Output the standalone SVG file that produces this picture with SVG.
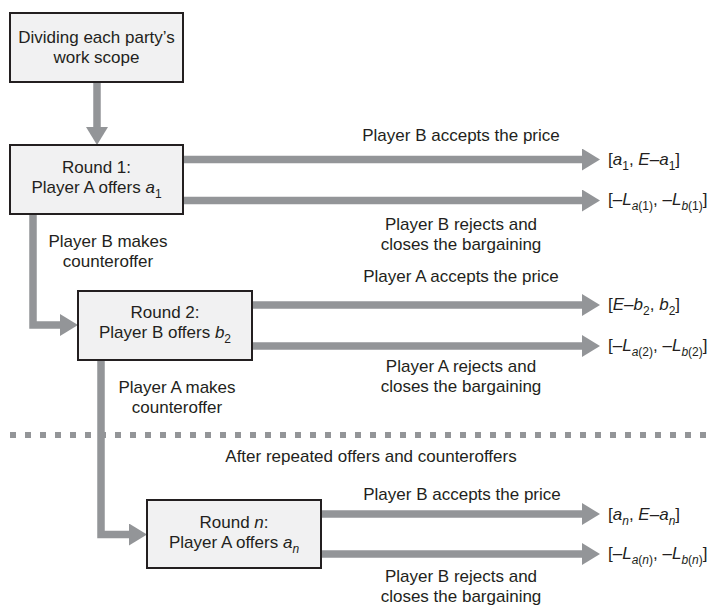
<svg xmlns="http://www.w3.org/2000/svg" width="713" height="606" viewBox="0 0 713 606">
<style>
text{font-family:"Liberation Sans",Arial,sans-serif;font-size:17px;fill:#231f20}
.c{text-anchor:middle}
.i{font-style:italic}
.s{font-size:12px}
.box{fill:#f1f1f2;stroke:#231f20;stroke-width:2}
.ln{fill:none;stroke:#939598;stroke-width:7.5}
.dot{fill:none;stroke:#939598;stroke-width:6;stroke-dasharray:6 9}
</style>
<defs>
<marker id="ah" markerUnits="userSpaceOnUse" markerWidth="18" markerHeight="22" refX="0" refY="11" orient="auto" viewBox="0 0 18 22">
<path d="M0,0 L18,11 L0,22 z" fill="#939598"/>
</marker>
</defs>
<rect width="713" height="606" fill="#fff"/>
<g id="connectors">
<path class="ln" d="M97,82 V127" marker-end="url(#ah)"/>
<path class="ln" d="M183,159.5 H582" marker-end="url(#ah)"/>
<path class="ln" d="M183,200.5 H582" marker-end="url(#ah)"/>
<path class="ln" d="M33,214 V325 H60" marker-end="url(#ah)"/>
<path class="ln" d="M252,305 H582" marker-end="url(#ah)"/>
<path class="ln" d="M252,346 H582" marker-end="url(#ah)"/>
<path class="ln" d="M101,360 V534.5 H129" marker-end="url(#ah)"/>
<path class="ln" d="M321,514 H582" marker-end="url(#ah)"/>
<path class="ln" d="M321,554 H582" marker-end="url(#ah)"/>
<path class="dot" d="M10,435 H713"/>
<text class="c" x="461" y="141">Player B accepts the price</text>
<text class="c" x="461" y="230">Player B rejects and</text>
<text class="c" x="461" y="250">closes the bargaining</text>
<text class="c" x="108" y="247">Player B makes</text>
<text class="c" x="108" y="267">counteroffer</text>
<text class="c" x="461" y="282">Player A accepts the price</text>
<text class="c" x="461" y="372">Player A rejects and</text>
<text class="c" x="461" y="392">closes the bargaining</text>
<text class="c" x="177" y="393">Player A makes</text>
<text class="c" x="177" y="413">counteroffer</text>
<text class="c" x="371" y="462">After repeated offers and counteroffers</text>
<text class="c" x="462" y="500">Player B  accepts the price</text>
<text class="c" x="461" y="582">Player B rejects and</text>
<text class="c" x="461" y="602">closes the bargaining</text>
</g>
<g id="outcomes">
<text x="608" y="165">[<tspan class="i">a</tspan><tspan class="s" dy="5">1</tspan><tspan dy="-5">, </tspan><tspan class="i">E</tspan>–<tspan class="i">a</tspan><tspan class="s" dy="5">1</tspan><tspan dy="-5">]</tspan></text>
<text x="608" y="205">[–<tspan class="i">L</tspan><tspan class="s" dy="5"><tspan class="i">a</tspan>(1)</tspan><tspan dy="-5">, –</tspan><tspan class="i">L</tspan><tspan class="s" dy="5"><tspan class="i">b</tspan>(1)</tspan><tspan dy="-5">]</tspan></text>
<text x="608" y="310">[<tspan class="i">E</tspan>–<tspan class="i">b</tspan><tspan class="s" dy="5">2</tspan><tspan dy="-5">, </tspan><tspan class="i">b</tspan><tspan class="s" dy="5">2</tspan><tspan dy="-5">]</tspan></text>
<text x="608" y="351">[–<tspan class="i">L</tspan><tspan class="s" dy="5"><tspan class="i">a</tspan>(2)</tspan><tspan dy="-5">, –</tspan><tspan class="i">L</tspan><tspan class="s" dy="5"><tspan class="i">b</tspan>(2)</tspan><tspan dy="-5">]</tspan></text>
<text x="608" y="520">[<tspan class="i">a</tspan><tspan class="s i" dy="5">n</tspan><tspan dy="-5">, </tspan><tspan class="i">E</tspan>–<tspan class="i">a</tspan><tspan class="s i" dy="5">n</tspan><tspan dy="-5">]</tspan></text>
<text x="608" y="559">[–<tspan class="i">L</tspan><tspan class="s" dy="5"><tspan class="i">a</tspan>(<tspan class="i">n</tspan>)</tspan><tspan dy="-5">, –</tspan><tspan class="i">L</tspan><tspan class="s" dy="5"><tspan class="i">b</tspan>(<tspan class="i">n</tspan>)</tspan><tspan dy="-5">]</tspan></text>
</g>
<g id="start">
<rect class="box" x="10" y="13" width="173" height="69"/>
<text class="c" x="96.5" y="43">Dividing each party’s</text>
<text class="c" x="96.5" y="63">work scope</text>
</g>
<g id="round1">
<rect class="box" x="10" y="145" width="173" height="69"/>
<text class="c" x="96.5" y="173">Round 1:</text>
<text class="c" x="96.5" y="193">Player A offers <tspan class="i">a</tspan><tspan class="s" dy="5">1</tspan></text>
</g>
<g id="round2">
<rect class="box" x="78" y="291" width="174" height="69"/>
<text class="c" x="165" y="318">Round 2:</text>
<text class="c" x="165" y="338">Player B offers <tspan class="i">b</tspan><tspan class="s" dy="5">2</tspan></text>
</g>
<g id="roundn">
<rect class="box" x="147" y="500" width="174" height="68"/>
<text class="c" x="234" y="528">Round <tspan class="i">n</tspan>:</text>
<text class="c" x="234" y="548">Player A offers <tspan class="i">a</tspan><tspan class="s i" dy="5">n</tspan></text>
</g>
</svg>
